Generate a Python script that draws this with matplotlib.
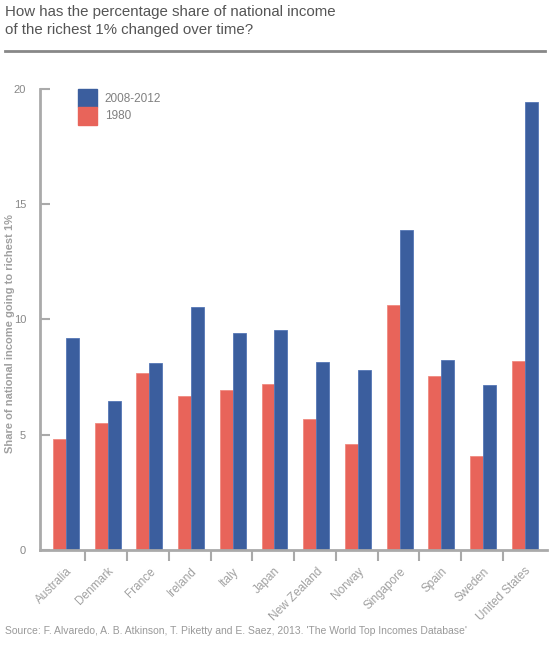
import numpy as np
import matplotlib
matplotlib.use('Agg')
import matplotlib.pyplot as plt
from matplotlib.patches import Rectangle

plt.rcParams['font.family'] = ['Liberation Sans', 'DejaVu Sans']

countries = ['Australia', 'Denmark', 'France', 'Ireland', 'Italy', 'Japan',
             'New Zealand', 'Norway', 'Singapore', 'Spain', 'Sweden',
             'United States']
share_1980 = [4.8, 5.5, 7.67, 6.68, 6.94, 7.2, 5.67, 4.61, 10.63, 7.54, 4.07, 8.21]
share_2008 = [9.21, 6.45, 8.11, 10.56, 9.41, 9.56, 8.16, 7.82, 13.9, 8.26, 7.16, 19.42]
yticks = [0, 5, 10, 15, 20]

red = '#e8645a'
blue = '#3b5e9e'
grey = '#aaaaaa'

fig = plt.figure(figsize=(5.5, 6.6), dpi=100)
ax = fig.add_axes([0.0727, 0.1667, 0.9218, 0.6985])

x = np.arange(len(countries))
w = 0.31
ax.bar(x - w/2, share_1980, w, color=red, edgecolor='#f08a80', linewidth=0.6)
ax.bar(x + w/2, share_2008, w, color=blue, edgecolor='#5577b5', linewidth=0.6)

ax.set_xlim(-0.62, 11.53)
ax.set_ylim(0, 20)

for s in ['top', 'right']:
    ax.spines[s].set_visible(False)
for s in ['left', 'bottom']:
    ax.spines[s].set_color(grey)
    ax.spines[s].set_linewidth(2)

ax.set_yticks(yticks)
ax.tick_params(axis='y', direction='in', length=7, width=1.5, color=grey,
               labelcolor='#888888', labelsize=8, pad=10)

# ticks between groups, labels at group centres
ax.set_xticks(x[:-1] + 0.47)
ax.set_xticklabels([])
ax.tick_params(axis='x', which='major', direction='out', length=8, width=1.5,
               color=grey)
ax.set_xticks(x, minor=True)
ax.set_xticklabels(countries, minor=True, rotation=45, ha='right',
                   rotation_mode='anchor', color='#a0a0a0', fontsize=8.5)
ax.tick_params(axis='x', which='minor', length=0, pad=11)

ax.set_ylabel('Share of national income going to richest 1%', color='#a0a0a0',
              fontsize=8, fontweight='bold')
ax.yaxis.set_label_coords(-0.05, 0.47)

# legend
ax.add_patch(Rectangle((0.075, 0.961), 0.038, 0.039, transform=ax.transAxes,
                       color=blue, clip_on=False))
ax.add_patch(Rectangle((0.075, 0.922), 0.038, 0.039, transform=ax.transAxes,
                       color=red, clip_on=False))
ax.text(0.128, 0.979, '2008-2012', transform=ax.transAxes, va='center',
        fontsize=8.5, color='#808080')
ax.text(0.128, 0.941, '1980', transform=ax.transAxes, va='center',
        fontsize=8.5, color='#808080')

fig.text(0.009, 0.992, 'How has the percentage share of national income\n'
         'of the richest 1% changed over time?', va='top', ha='left',
         fontsize=10.8, color='#555555', linespacing=1.3)
fig.add_artist(plt.Line2D([0.009, 0.991], [0.923, 0.923], color='#888888',
                          linewidth=2))
fig.text(0.009, 0.044, "Source: F. Alvaredo, A. B. Atkinson, T. Piketty and E. Saez, "
         "2013. 'The World Top Incomes Database'", fontsize=7.5,
         color='#999999', va='center')

plt.savefig('out.png', dpi=100)
